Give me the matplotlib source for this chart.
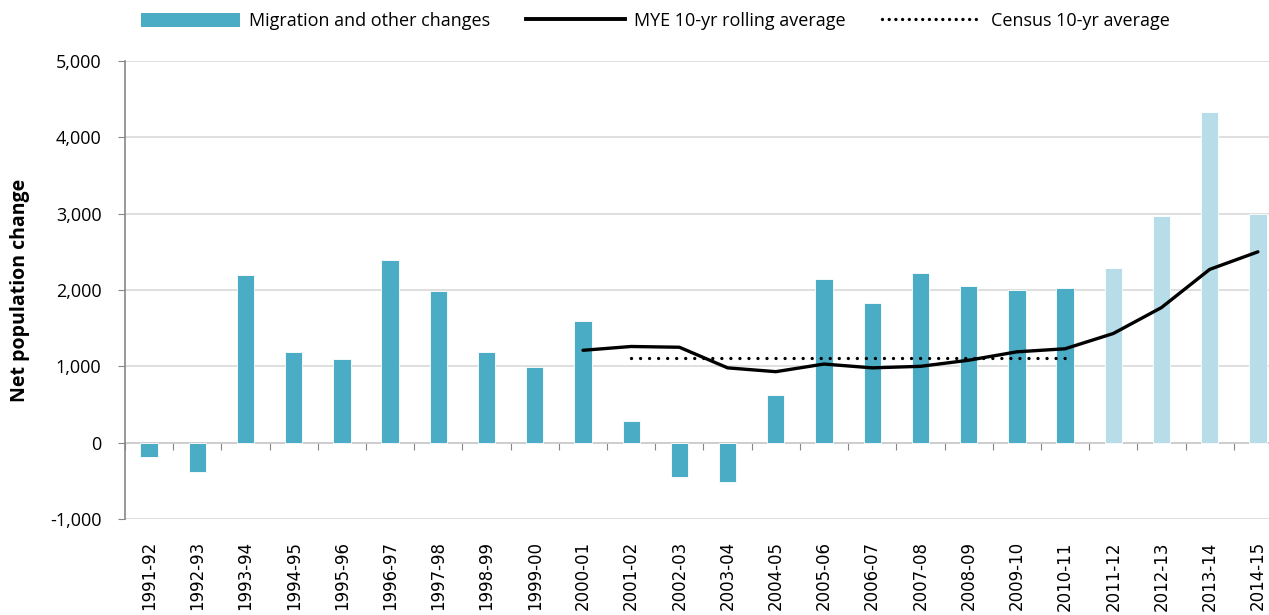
import matplotlib.pyplot as plt
from matplotlib.patches import Patch
from matplotlib.lines import Line2D
import numpy as np

# financial years
years = ['1991-92', '1992-93', '1993-94', '1994-95', '1995-96', '1996-97',
         '1997-98', '1998-99', '1999-00', '2000-01', '2001-02', '2002-03',
         '2003-04', '2004-05', '2005-06', '2006-07', '2007-08', '2008-09',
         '2009-10', '2010-11', '2011-12', '2012-13', '2013-14', '2014-15']

# migration and other changes (last four are lighter shade)
migration = [-190, -390, 2190, 1190, 1090, 2390, 1990, 1190, 990, 1590,
             280, -450, -520, 630, 2140, 1830, 2220, 2050, 2000, 2020,
             2290, 2970, 4330, 3000]
n_light = 4

# MYE 10-yr rolling average, 2000-01 onwards
mye_years = years[9:]
mye_avg = [1210, 1260, 1250, 980, 930, 1030, 980, 1000, 1080, 1190, 1230,
           1430, 1770, 2270, 2500]

# Census 10-yr average, 2001-02 to 2010-11
census_years = years[10:20]
census_avg = [1110] * len(census_years)

dark = '#4BACC6'
light = '#B7DEE8'
font = ['Open Sans', 'DejaVu Sans']
plt.rcParams['font.family'] = font

fig = plt.figure(figsize=(12.69, 6.15), dpi=100)
ax = fig.add_axes([125 / 1269, 96 / 615, 1157 / 1269, 458 / 615])

x = np.arange(len(years))
idx = {y: i for i, y in enumerate(years)}
colors = [dark] * (len(years) - n_light) + [light] * n_light
ax.bar(x, migration, width=0.36, color=colors, edgecolor='white',
       linewidth=0.6, zorder=2)
ax.plot([idx[y] for y in mye_years], mye_avg, color='black', lw=2.4,
        solid_capstyle='round', zorder=3)
ax.plot([idx[y] for y in census_years], census_avg, color='black', lw=2.4,
        linestyle=(0, (0.01, 2.7)), dash_capstyle='round', zorder=3)

ax.set_xlim(-0.5, len(years) - 0.5)
ax.set_ylim(-1000, 5000)
ax.set_yticks(np.arange(-1000, 5001, 1000))
ax.set_yticklabels(['{:,}'.format(v) for v in range(-1000, 5001, 1000)],
                   fontsize=13)
ax.yaxis.grid(True, color='#D9D9D9', lw=1.2, zorder=0)
ax.set_axisbelow(True)
ax.tick_params(axis='y', length=5, color='#868686', pad=12)

ax.set_xticks(x)
ax.set_xticklabels(years, rotation=90, fontsize=12,
                   family=['DejaVu Sans'])
ax.tick_params(axis='x', length=0, pad=16)

for s in ['top', 'right', 'bottom']:
    ax.spines[s].set_visible(False)
ax.spines['left'].set_color('#868686')
ax.spines['left'].set_linewidth(1.2)

# x-axis line at zero with tick marks between categories
sec = ax.secondary_xaxis(1 / 6)
sec.set_xticks(np.arange(-0.5, len(years), 1.0))
sec.tick_params(axis='x', direction='out', length=5, color='#868686',
                labelbottom=False, labeltop=False, bottom=True, top=False)
sec.spines['bottom'].set_color('#868686')
sec.spines['bottom'].set_linewidth(1.2)
sec.spines['top'].set_visible(False)

ax.set_ylabel('Net population change', fontsize=14, fontweight='bold',
              labelpad=14)

handles = [Patch(facecolor=dark, edgecolor='none'),
           Line2D([], [], color='black', lw=2.8),
           Line2D([], [], color='black', lw=2.4, linestyle=(0, (0.01, 2.0)),
                  dash_capstyle='round')]
labels = ['Migration and other changes', 'MYE 10-yr rolling average',
          'Census 10-yr average']
fig.legend(handles, labels, loc='center', bbox_to_anchor=(655 / 1269, 1 - 21 / 615),
           ncol=3, frameon=False, fontsize=13, handlelength=5.5,
           handleheight=0.8, columnspacing=2.0, handletextpad=0.5)

fig.savefig('out.png', dpi=100)
